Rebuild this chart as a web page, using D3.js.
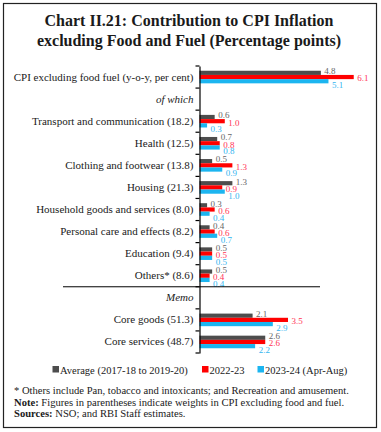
<!DOCTYPE html>
<html>
<head>
<meta charset="utf-8">
<script src="https://cdn.jsdelivr.net/npm/d3@7"></script>
<style>
  body { margin: 0; background: #fff; }
  svg { display: block; font-family: "Liberation Serif", "Times New Roman", serif; }
</style>
</head>
<body>
<svg id="chart" width="381" height="432"></svg>
<script>
// rows of the chart, "of which" and "Memo" are text-only rows
const categories = [
  "CPI excluding food fuel (y-o-y, per cent)",
  "of which",
  "Transport and communication (18.2)",
  "Health (12.5)",
  "Clothing and footwear (13.8)",
  "Housing (21.3)",
  "Household goods and services (8.0)",
  "Personal care and effects (8.2)",
  "Education (9.4)",
  "Others* (8.6)",
  "Memo",
  "Core goods (51.3)",
  "Core services (48.7)"
];
const italicRows = ["of which", "Memo"];

const seriesNames = ["Average (2017-18 to 2019-20)", "2022-23", "2023-24 (Apr-Aug)"];
const average   = [4.8, null, 0.6, 0.7, 0.5, 1.3, 0.3, 0.4, 0.5, 0.5, null, 2.1, 2.6];
const fy2022_23 = [6.1, null, 1.0, 0.8, 1.3, 0.9, 0.6, 0.6, 0.5, 0.4, null, 3.5, 2.6];
const fy2023_24 = [5.1, null, 0.3, 0.8, 0.9, 1.0, 0.4, 0.7, 0.5, 0.4, null, 2.9, 2.2];

const barColors = ["#4d4d4d", "#ff0000", "#1cb5f0"];
const labelColors = ["#666666", "#ff3355", "#33b5f0"];

const svg = d3.select("#chart");

// frame
svg.append("rect")
  .attr("x", 3.5).attr("y", 3.5)
  .attr("width", 373).attr("height", 424)
  .attr("fill", "none")
  .attr("stroke", "#222")
  .attr("stroke-width", 1.2);

// title
const title = svg.append("text")
  .attr("text-anchor", "middle")
  .attr("font-weight", "bold")
  .attr("font-size", 16)
  .attr("fill", "#1a1a1a");
title.append("tspan").attr("x", 189).attr("y", 26).text("Chart II.21: Contribution to CPI Inflation");
title.append("tspan").attr("x", 189).attr("y", 46).text("excluding Food and Fuel (Percentage points)");

const y = d3.scaleBand()
  .domain(categories)
  .range([66, 353])
  .padding(0);

const x = d3.scaleLinear()
  .domain([0, 7])
  .range([199.5, 376.5]);

const series = [average, fy2022_23, fy2023_24];
const barH = 4.2;
const barOffset = [-6.3, -2.1, 2.1];
const labelOffset = [-6, 1.2, 8];

// bars
series.forEach((vals, s) => {
  const rows = categories.map((c, i) => ({ cat: c, v: vals[i] })).filter(d => d.v != null);
  svg.append("g")
    .selectAll("rect")
    .data(rows)
    .enter()
    .append("rect")
    .attr("x", x(0))
    .attr("y", d => y(d.cat) + y.bandwidth() / 2 + barOffset[s])
    .attr("width", d => x(d.v) - x(0))
    .attr("height", barH)
    .attr("fill", barColors[s]);
});

// value labels (drawn after the bars so they sit on top)
series.forEach((vals, s) => {
  const rows = categories.map((c, i) => ({ cat: c, v: vals[i] })).filter(d => d.v != null);
  svg.append("g")
    .selectAll("text")
    .data(rows)
    .enter()
    .append("text")
    .attr("x", d => x(d.v) + 3.5)
    .attr("y", d => y(d.cat) + y.bandwidth() / 2 + labelOffset[s])
    .attr("dy", "0.35em")
    .attr("font-size", 9)
    .attr("fill", labelColors[s])
    .text(d => d.v.toFixed(1));
});

// category axis
const axis = d3.axisLeft(y).tickSize(0).tickPadding(6);
const gAxis = svg.append("g")
  .attr("transform", `translate(${x(0)},0)`)
  .call(axis);
gAxis.select(".domain").attr("stroke", "#000").attr("stroke-width", 1.2);
gAxis.selectAll(".tick text")
  .attr("font-size", 11)
  .attr("font-family", "Liberation Serif, serif")
  .attr("fill", "#1a1a1a")
  .attr("font-style", d => italicRows.includes(d) ? "italic" : "normal");

// ticks at band boundaries
const bounds = categories.map(c => y(c)).concat([y.range()[1]]);
svg.append("g")
  .selectAll("line")
  .data(bounds)
  .enter()
  .append("line")
  .attr("x1", x(0) - 4).attr("x2", x(0))
  .attr("y1", d => d).attr("y2", d => d)
  .attr("stroke", "#000")
  .attr("stroke-width", 1.2);

// separator between main items and memo
svg.append("line")
  .attr("x1", 63).attr("x2", 320)
  .attr("y1", y("Memo")).attr("y2", y("Memo"))
  .attr("stroke", "#000")
  .attr("stroke-width", 1);

// legend
const legendX = [52.5, 202, 257.5];
const legend = svg.append("g")
  .selectAll("g")
  .data(seriesNames)
  .enter()
  .append("g")
  .attr("transform", (d, i) => `translate(${legendX[i]},370)`);
legend.append("rect")
  .attr("x", 0).attr("y", -4)
  .attr("width", 6.5).attr("height", 6.5)
  .attr("fill", (d, i) => barColors[i]);
legend.append("text")
  .attr("x", 7.5).attr("y", 0)
  .attr("dy", "0.35em")
  .attr("font-size", 10.5)
  .attr("fill", "#1a1a1a")
  .text(d => d);

// notes
const notes = svg.append("g").attr("font-size", 10.6).attr("fill", "#1a1a1a");
notes.append("text").attr("x", 14).attr("y", 394)
  .text("* Others include Pan, tobacco and intoxicants; and Recreation and amusement.");
const n2 = notes.append("text").attr("x", 14).attr("y", 406);
n2.append("tspan").attr("font-weight", "bold").text("Note:");
n2.append("tspan").text(" Figures in parentheses indicate weights in CPI excluding food and fuel.");
const n3 = notes.append("text").attr("x", 14).attr("y", 417);
n3.append("tspan").attr("font-weight", "bold").text("Sources:");
n3.append("tspan").text(" NSO; and RBI Staff estimates.");
</script>
</body>
</html>
